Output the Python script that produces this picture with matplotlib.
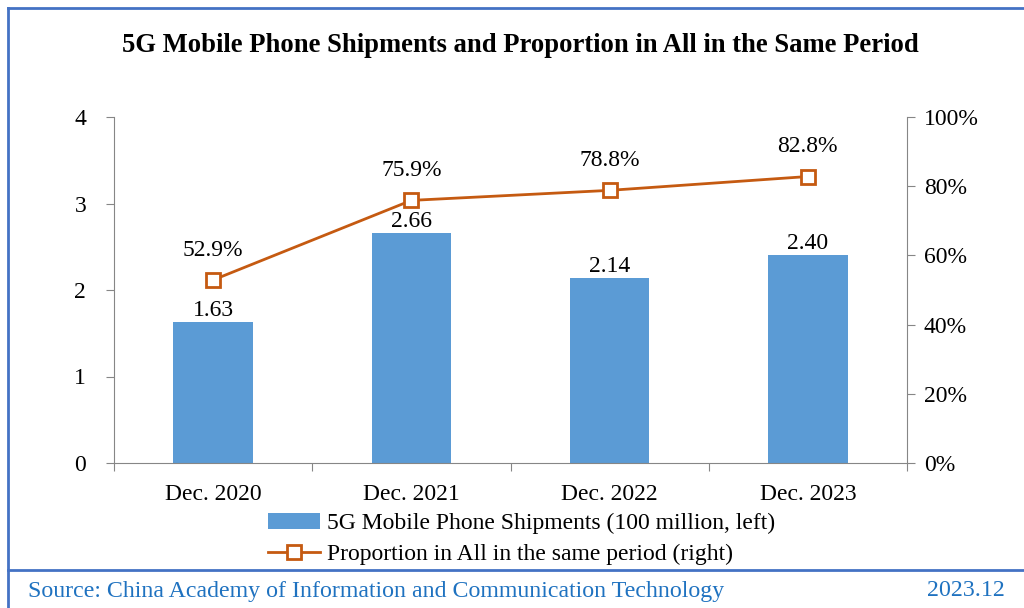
import matplotlib
matplotlib.use("Agg")
import matplotlib.pyplot as plt
from matplotlib.lines import Line2D
from matplotlib.patches import Patch

categories = ["Dec. 2020", "Dec. 2021", "Dec. 2022", "Dec. 2023"]
shipments = [1.63, 2.66, 2.14, 2.40]          # 100 million units
proportion = [52.9, 75.9, 78.8, 82.8]         # percent of all phones

title = "5G Mobile Phone Shipments and Proportion in All in the Same Period"
bar_label = "5G Mobile Phone Shipments (100 million, left)"
line_label = "Proportion in All in the same period (right)"
source = "Source: China Academy of Information and Communication Technology"
date = "2023.12"

BAR_C = "#5B9BD5"
LINE_C = "#C55A11"
AXIS_C = "#868686"
FRAME_C = "#4472C4"
SRC_C = "#1F72C0"
FS = 17

plt.rcParams["font.family"] = ["Liberation Serif", "DejaVu Serif"]

fig = plt.figure(figsize=(10.24, 6.08), dpi=100)
ax = fig.add_axes([114 / 1024, 1 - 463 / 608, (907 - 114) / 1024, (463 - 117) / 608])
ax2 = ax.twinx()

x = list(range(len(categories)))
ax.bar(x, shipments, width=0.4, color=BAR_C, zorder=2)
ax.set_xlim(-0.5, len(categories) - 0.5)
ax.set_ylim(0, 4)
ax.set_yticks([0, 1, 2, 3, 4])
ax2.set_ylim(0, 100)
ax2.set_yticks([0, 20, 40, 60, 80, 100])
ax2.set_yticklabels([f"{v}%" for v in [0, 20, 40, 60, 80, 100]])

ax2.plot(x, proportion, color=LINE_C, lw=2, marker="s", ms=10,
         mfc="white", mec=LINE_C, mew=2, zorder=3)

for xi, v in zip(x, shipments):
    ax.annotate(f"{v:.2f}", (xi, v), xytext=(0, 1), textcoords="offset points",
                ha="center", va="bottom", fontsize=FS)
for xi, v in zip(x, proportion):
    ax2.annotate(f"{v:.1f}%", (xi, v), xytext=(0, 14), textcoords="offset points",
                 ha="center", va="bottom", fontsize=FS)

# category labels centred under bars, ticks on the category boundaries
ax.set_xticks([i - 0.5 for i in range(len(categories) + 1)])
ax.set_xticklabels([])
ax.set_xticks(x, minor=True)
ax.set_xticklabels(categories, minor=True, fontsize=FS)
ax.tick_params(axis="x", which="minor", length=0, pad=15)
ax.tick_params(axis="x", which="major", length=6, color=AXIS_C, direction="out")
ax.tick_params(axis="y", labelsize=FS, length=6, color=AXIS_C, pad=14)
ax2.tick_params(axis="y", labelsize=FS, length=6, color=AXIS_C, pad=6)

for a in (ax, ax2):
    a.spines["top"].set_visible(False)
    for s in ("left", "right", "bottom"):
        a.spines[s].set_color(AXIS_C)
ax.spines["right"].set_visible(False)
ax2.spines["left"].set_visible(False)
ax2.spines["bottom"].set_visible(False)

fig.text(0.508, 1 - 45 / 608, title, ha="center", va="center",
         fontsize=19.2, fontweight="bold")

handles = [Patch(facecolor=BAR_C, edgecolor="none"),
           Line2D([0], [0], color=LINE_C, lw=2, marker="s", ms=10,
                  mfc="white", mec=LINE_C, mew=2)]
fig.legend(handles, [bar_label, line_label], loc="center",
           bbox_to_anchor=(0.509, 1 - 539 / 608), ncol=1, frameon=False,
           fontsize=FS, handlelength=2.2, handletextpad=0.3,
           labelspacing=0.4, borderpad=0)

# frame lines around the panel and the source strip
fig.add_artist(Line2D([7.5 / 1024, 7.5 / 1024], [0, 1 - 7.5 / 608],
                      color=FRAME_C, lw=2, transform=fig.transFigure))
fig.add_artist(Line2D([7.5 / 1024, 1], [1 - 7.5 / 608, 1 - 7.5 / 608],
                      color=FRAME_C, lw=2, transform=fig.transFigure))
fig.add_artist(Line2D([7.5 / 1024, 1], [1 - 570 / 608, 1 - 570 / 608],
                      color=FRAME_C, lw=2, transform=fig.transFigure))

fig.text(28 / 1024, 1 - 591 / 608, source, ha="left", va="center",
         fontsize=17.2, color=SRC_C)
fig.text(1005 / 1024, 1 - 591 / 608, date, ha="right", va="center",
         fontsize=17.2, color=SRC_C)

fig.savefig("out.png", dpi=100)
